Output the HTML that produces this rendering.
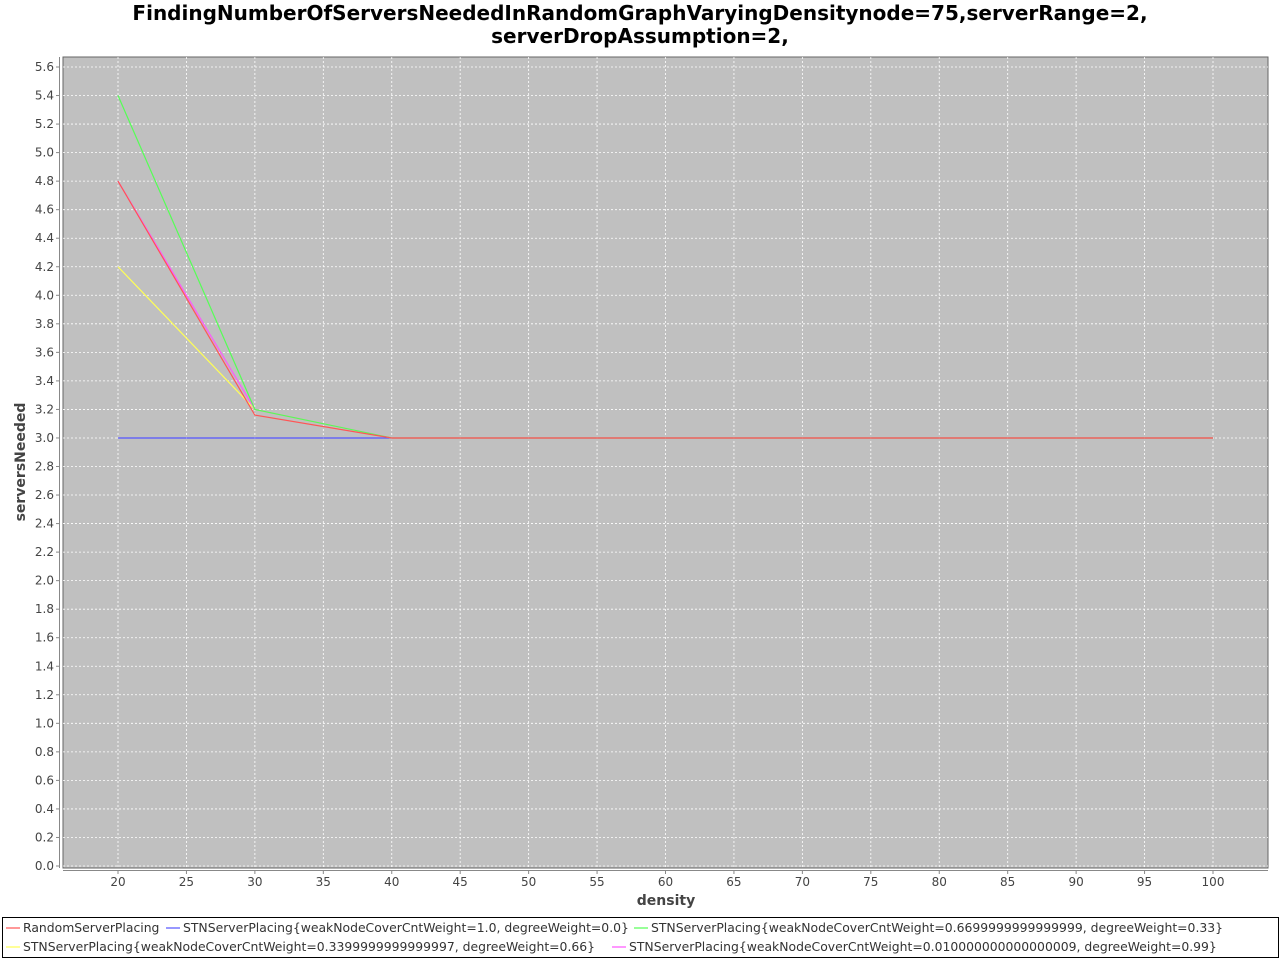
<!DOCTYPE html>
<html><head><meta charset="utf-8"><style>
body{margin:0;background:#fff;width:1280px;height:960px;overflow:hidden;font-family:"DejaVu Sans","Liberation Sans",sans-serif}
</style></head><body>
<svg width="1280" height="960" xmlns="http://www.w3.org/2000/svg">
<text x="640" y="20" text-anchor="middle" font-size="20" font-weight="bold" font-family="DejaVu Sans, sans-serif">FindingNumberOfServersNeededInRandomGraphVaryingDensitynode=75,serverRange=2,</text>
<text x="640" y="43" text-anchor="middle" font-size="20" font-weight="bold" font-family="DejaVu Sans, sans-serif">serverDropAssumption=2,</text>
<rect x="63" y="57" width="1205" height="811" fill="#c0c0c0" stroke="#666"/>
<g id="grid"></g>
<g id="axes"></g>
<g id="series"></g>
<text x="666" y="905" text-anchor="middle" font-size="14" font-weight="bold" fill="#444">density</text>
<text transform="translate(25,462) rotate(-90)" text-anchor="middle" font-size="14" font-weight="bold" fill="#444">serversNeeded</text>
<rect x="2.5" y="917.5" width="1276" height="40" fill="#fff" stroke="#000"/>
<g id="legend" font-size="12.4" fill="#333"></g>
</svg>
<script>
const xs=[20,30,40,50,60,70,80,90,100];
const seriesNames=["RandomServerPlacing","STNServerPlacing{weakNodeCoverCntWeight=1.0, degreeWeight=0.0}","STNServerPlacing{weakNodeCoverCntWeight=0.6699999999999999, degreeWeight=0.33}","STNServerPlacing{weakNodeCoverCntWeight=0.3399999999999997, degreeWeight=0.66}","STNServerPlacing{weakNodeCoverCntWeight=0.010000000000000009, degreeWeight=0.99}"];
const colors=["#ff5555","#5555ff","#55ff55","#ffff55","#ff55ff"];
const randomVals=[4.8,3.16,3,3,3,3,3,3,3];
const stn10Vals=[3,3,3,3,3,3,3,3,3];
const stn067Vals=[5.4,3.2,3,3,3,3,3,3,3];
const stn034Vals=[4.2,3.2,3,3,3,3,3,3,3];
const stn001Vals=[4.8,3.2,3,3,3,3,3,3,3];
const xTicks=[20,25,30,35,40,45,50,55,60,65,70,75,80,85,90,95,100];
const yTicks=[0,0.2,0.4,0.6,0.8,1.0,1.2,1.4,1.6,1.8,2.0,2.2,2.4,2.6,2.8,3.0,3.2,3.4,3.6,3.8,4.0,4.2,4.4,4.6,4.8,5.0,5.2,5.4,5.6];
const NS="http://www.w3.org/2000/svg";
const X=v=>118+(v-20)*(1213-118)/80;
const Y=v=>866-v*(866-67)/5.6;
function mk(t,a,p){const e=document.createElementNS(NS,t);for(const k in a)e.setAttribute(k,a[k]);p.appendChild(e);return e;}
const grid=document.getElementById('grid'),axes=document.getElementById('axes'),ser=document.getElementById('series'),leg=document.getElementById('legend');
mk('line',{x1:63,x2:1268,y1:870.5,y2:870.5,stroke:'#888'},axes);
mk('line',{x1:59.5,x2:59.5,y1:57,y2:868,stroke:'#888'},axes);
xTicks.forEach(t=>{const x=X(t);
const g=mk('line',{x1:x,x2:x,y1:57,y2:868,stroke:'#fff','stroke-dasharray':'2,2','stroke-width':0.8},grid);

mk('line',{x1:x,x2:x,y1:870,y2:874,stroke:'#888'},axes);
const l=mk('text',{x:x,y:886,'text-anchor':'middle','font-size':12,fill:'#444'},axes);l.textContent=t;
});
yTicks.forEach(t=>{const y=Y(t);
const g=mk('line',{x1:63,x2:1268,y1:y,y2:y,stroke:'#fff','stroke-dasharray':'2,2','stroke-width':0.8},grid);

mk('line',{x1:56,x2:59,y1:y,y2:y,stroke:'#888'},axes);
const l=mk('text',{x:54,y:y+4,'text-anchor':'end','font-size':12,fill:'#444'},axes);l.textContent=t.toFixed(1);
});
const all=[randomVals,stn10Vals,stn067Vals,stn034Vals,stn001Vals];
const slugs=['random','stn-1-0','stn-0-67','stn-0-34','stn-0-01'];
[1,3,4,2,0].forEach(i=>{const pts=xs.map((x,j)=>X(x)+','+Y(all[i][j])).join(' ');
const p=mk('polyline',{points:pts,fill:'none',stroke:colors[i],'stroke-width':1.2},ser);
});
const lp=[[6,932],[166,932],[634,932],[6,951],[612,951]];
seriesNames.forEach((n,i)=>{const [x,y]=lp[i];
mk('line',{x1:x,x2:x+14,y1:y-4,y2:y-4,stroke:colors[i],'stroke-width':2,opacity:0.6},leg);
const t=mk('text',{x:x+17,y:y,fill:'#333'},leg);t.textContent=n;
});
</script>
</body></html>
